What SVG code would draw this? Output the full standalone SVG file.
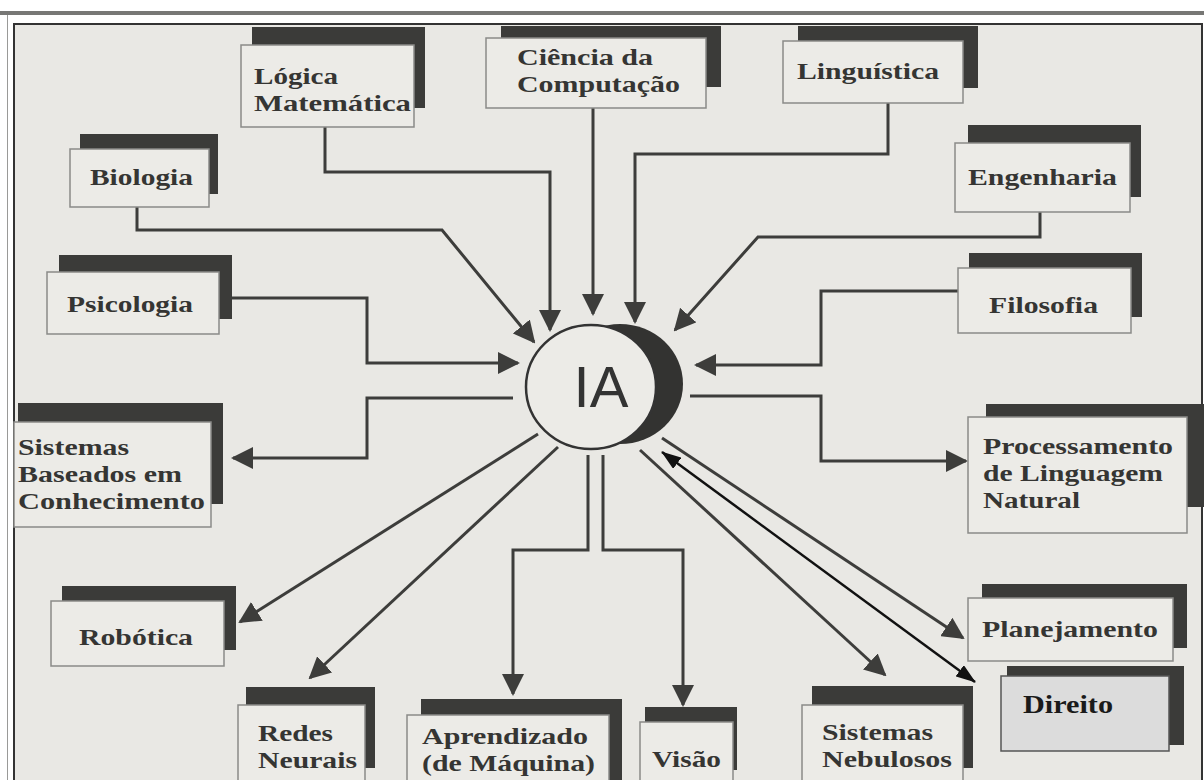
<svg xmlns="http://www.w3.org/2000/svg" width="1204" height="780" viewBox="0 0 1204 780">
<style>
.sh{fill:#3b3b39}
.fr{fill:#ecebe7;stroke:#8a8a88;stroke-width:1.5}
.t{font-family:"Liberation Serif","Times New Roman",serif;font-weight:bold;font-size:24px;fill:#353533}
.ln{fill:none;stroke:#3d3d3b;stroke-width:3}
.bk{fill:none;stroke:#111;stroke-width:2.5}
</style>
<defs>
<marker id="ah" markerUnits="userSpaceOnUse" markerWidth="22" markerHeight="22" viewBox="0 0 22 22" refX="20" refY="11" orient="auto"><path d="M0,0 L22,11 L0,22 z" fill="#3d3d3b"/></marker>
<marker id="bh" markerUnits="userSpaceOnUse" markerWidth="20" markerHeight="14" viewBox="0 0 20 14" refX="19" refY="7" orient="auto-start-reverse"><path d="M0,0 L20,7 L0,14 z" fill="#111"/></marker>
</defs>
<rect x="0" y="0" width="1204" height="780" fill="#ffffff"/>
<rect x="0" y="11" width="1204" height="4" fill="#777775"/>
<line x1="7.5" y1="15" x2="7.5" y2="780" stroke="#9a9a98" stroke-width="1"/>
<rect x="14" y="24" width="1188" height="770" fill="#e9e8e4" stroke="#333" stroke-width="2"/>

<g id="connectors">
<path class="ln" d="M325,127 V172 H550 V330" marker-end="url(#ah)"/>
<path class="ln" d="M137,207 V230 H442 L534,342" marker-end="url(#ah)"/>
<path class="ln" d="M593,108 V314" marker-end="url(#ah)"/>
<path class="ln" d="M888,103 V154 H635 V322" marker-end="url(#ah)"/>
<path class="ln" d="M1040,212 V237 H758 L675,330" marker-end="url(#ah)"/>
<path class="ln" d="M232,298 H367 V363 H518" marker-end="url(#ah)"/>
<path class="ln" d="M958,291 H821 V365 H696" marker-end="url(#ah)"/>
<path class="ln" d="M513,398 H367 V458 H233" marker-end="url(#ah)"/>
<path class="ln" d="M690,396 H821 V461 H966" marker-end="url(#ah)"/>
<path class="ln" d="M538,434 L240,622" marker-end="url(#ah)"/>
<path class="ln" d="M558,447 L310,678" marker-end="url(#ah)"/>
<path class="ln" d="M588,455 V550 H513 V694" marker-end="url(#ah)"/>
<path class="ln" d="M603,455 V550 H683 V705" marker-end="url(#ah)"/>
<path class="ln" d="M640,450 L885,675" marker-end="url(#ah)"/>
<path class="ln" d="M662,438 L963,638" marker-end="url(#ah)"/>
<path class="bk" d="M662,452 L975,682" marker-start="url(#bh)" marker-end="url(#bh)"/>
</g>

<g id="ia">
<ellipse cx="620" cy="384" rx="63" ry="60" fill="#333331"/>
<ellipse cx="591" cy="387" rx="65" ry="62" fill="#ecebe7" stroke="#333" stroke-width="2.5"/>
<text x="601" y="407" text-anchor="middle" font-family="Liberation Sans, Arial, sans-serif" font-size="58" fill="#333">IA</text>
</g>

<g id="logica"><rect class="sh" x="252" y="27" width="173" height="81"/><rect class="fr" x="241" y="45" width="173" height="82"/><text class="t" x="254" y="84" textLength="84" lengthAdjust="spacingAndGlyphs">Lógica</text><text class="t" x="254" y="111" textLength="157" lengthAdjust="spacingAndGlyphs">Matemática</text></g>
<g id="ciencia"><rect class="sh" x="501" y="26" width="220" height="61"/><rect class="fr" x="486" y="38" width="220" height="70"/><text class="t" x="517" y="65" textLength="136" lengthAdjust="spacingAndGlyphs">Ciência da</text><text class="t" x="517" y="92" textLength="163" lengthAdjust="spacingAndGlyphs">Computação</text></g>
<g id="linguistica"><rect class="sh" x="798" y="26" width="180" height="62"/><rect class="fr" x="783" y="41" width="180" height="62"/><text class="t" x="797" y="79" textLength="142" lengthAdjust="spacingAndGlyphs">Linguística</text></g>
<g id="biologia"><rect class="sh" x="80" y="134" width="138" height="60"/><rect class="fr" x="70" y="149" width="139" height="58"/><text class="t" x="90" y="185" textLength="103" lengthAdjust="spacingAndGlyphs">Biologia</text></g>
<g id="engenharia"><rect class="sh" x="968" y="125" width="173" height="72"/><rect class="fr" x="955" y="143" width="175" height="69"/><text class="t" x="968" y="185" textLength="149" lengthAdjust="spacingAndGlyphs">Engenharia</text></g>
<g id="psicologia"><rect class="sh" x="59" y="255" width="173" height="64"/><rect class="fr" x="47" y="272" width="172" height="62"/><text class="t" x="67" y="312" textLength="126" lengthAdjust="spacingAndGlyphs">Psicologia</text></g>
<g id="filosofia"><rect class="sh" x="969" y="253" width="173" height="64"/><rect class="fr" x="958" y="268" width="173" height="65"/><text class="t" x="989" y="313" textLength="109" lengthAdjust="spacingAndGlyphs">Filosofia</text></g>
<g id="sbc"><rect class="sh" x="18" y="403" width="205" height="101"/><rect class="fr" x="14" y="422" width="197" height="105"/><text class="t" x="18" y="455" textLength="111" lengthAdjust="spacingAndGlyphs">Sistemas</text><text class="t" x="18" y="482" textLength="164" lengthAdjust="spacingAndGlyphs">Baseados em</text><text class="t" x="18" y="509" textLength="187" lengthAdjust="spacingAndGlyphs">Conhecimento</text></g>
<g id="pln"><rect class="sh" x="986" y="404" width="220" height="103"/><rect class="fr" x="968" y="417" width="219" height="116"/><text class="t" x="983" y="454" textLength="190" lengthAdjust="spacingAndGlyphs">Processamento</text><text class="t" x="983" y="481" textLength="180" lengthAdjust="spacingAndGlyphs">de Linguagem</text><text class="t" x="983" y="508" textLength="97" lengthAdjust="spacingAndGlyphs">Natural</text></g>
<g id="robotica"><rect class="sh" x="62" y="586" width="174" height="64"/><rect class="fr" x="51" y="601" width="173" height="65"/><text class="t" x="79" y="645" textLength="114" lengthAdjust="spacingAndGlyphs">Robótica</text></g>
<g id="redes"><rect class="sh" x="246" y="687" width="129" height="81"/><rect class="fr" x="238" y="705" width="127" height="90"/><text class="t" x="258" y="741" textLength="75" lengthAdjust="spacingAndGlyphs">Redes</text><text class="t" x="258" y="768" textLength="99" lengthAdjust="spacingAndGlyphs">Neurais</text></g>
<g id="aprendizado"><rect class="sh" x="421" y="699" width="201" height="95"/><rect class="fr" x="407" y="715" width="202" height="80"/><text class="t" x="422" y="744" textLength="166" lengthAdjust="spacingAndGlyphs">Aprendizado</text><text class="t" x="422" y="771" textLength="173" lengthAdjust="spacingAndGlyphs">(de Máquina)</text></g>
<g id="visao"><rect class="sh" x="645" y="707" width="92" height="63"/><rect class="fr" x="640" y="722" width="93" height="70"/><text class="t" x="652" y="767" textLength="69" lengthAdjust="spacingAndGlyphs">Visão</text></g>
<g id="nebulosos"><rect class="sh" x="812" y="686" width="161" height="82"/><rect class="fr" x="802" y="705" width="161" height="90"/><text class="t" x="822" y="740" textLength="111" lengthAdjust="spacingAndGlyphs">Sistemas</text><text class="t" x="822" y="767" textLength="130" lengthAdjust="spacingAndGlyphs">Nebulosos</text></g>
<g id="planejamento"><rect class="sh" x="982" y="584" width="205" height="64"/><rect class="fr" x="968" y="598" width="205" height="63"/><text class="t" x="982" y="637" textLength="176" lengthAdjust="spacingAndGlyphs">Planejamento</text></g>
<g id="direito"><rect class="sh" x="1007" y="666" width="177" height="79"/><rect x="1001" y="676" width="168" height="75" fill="#dcdcdc" stroke="#555" stroke-width="1.5"/><text class="t" x="1023" y="713" textLength="90" lengthAdjust="spacingAndGlyphs" style="fill:#1a1a1a;font-size:26px">Direito</text></g>
</svg>
